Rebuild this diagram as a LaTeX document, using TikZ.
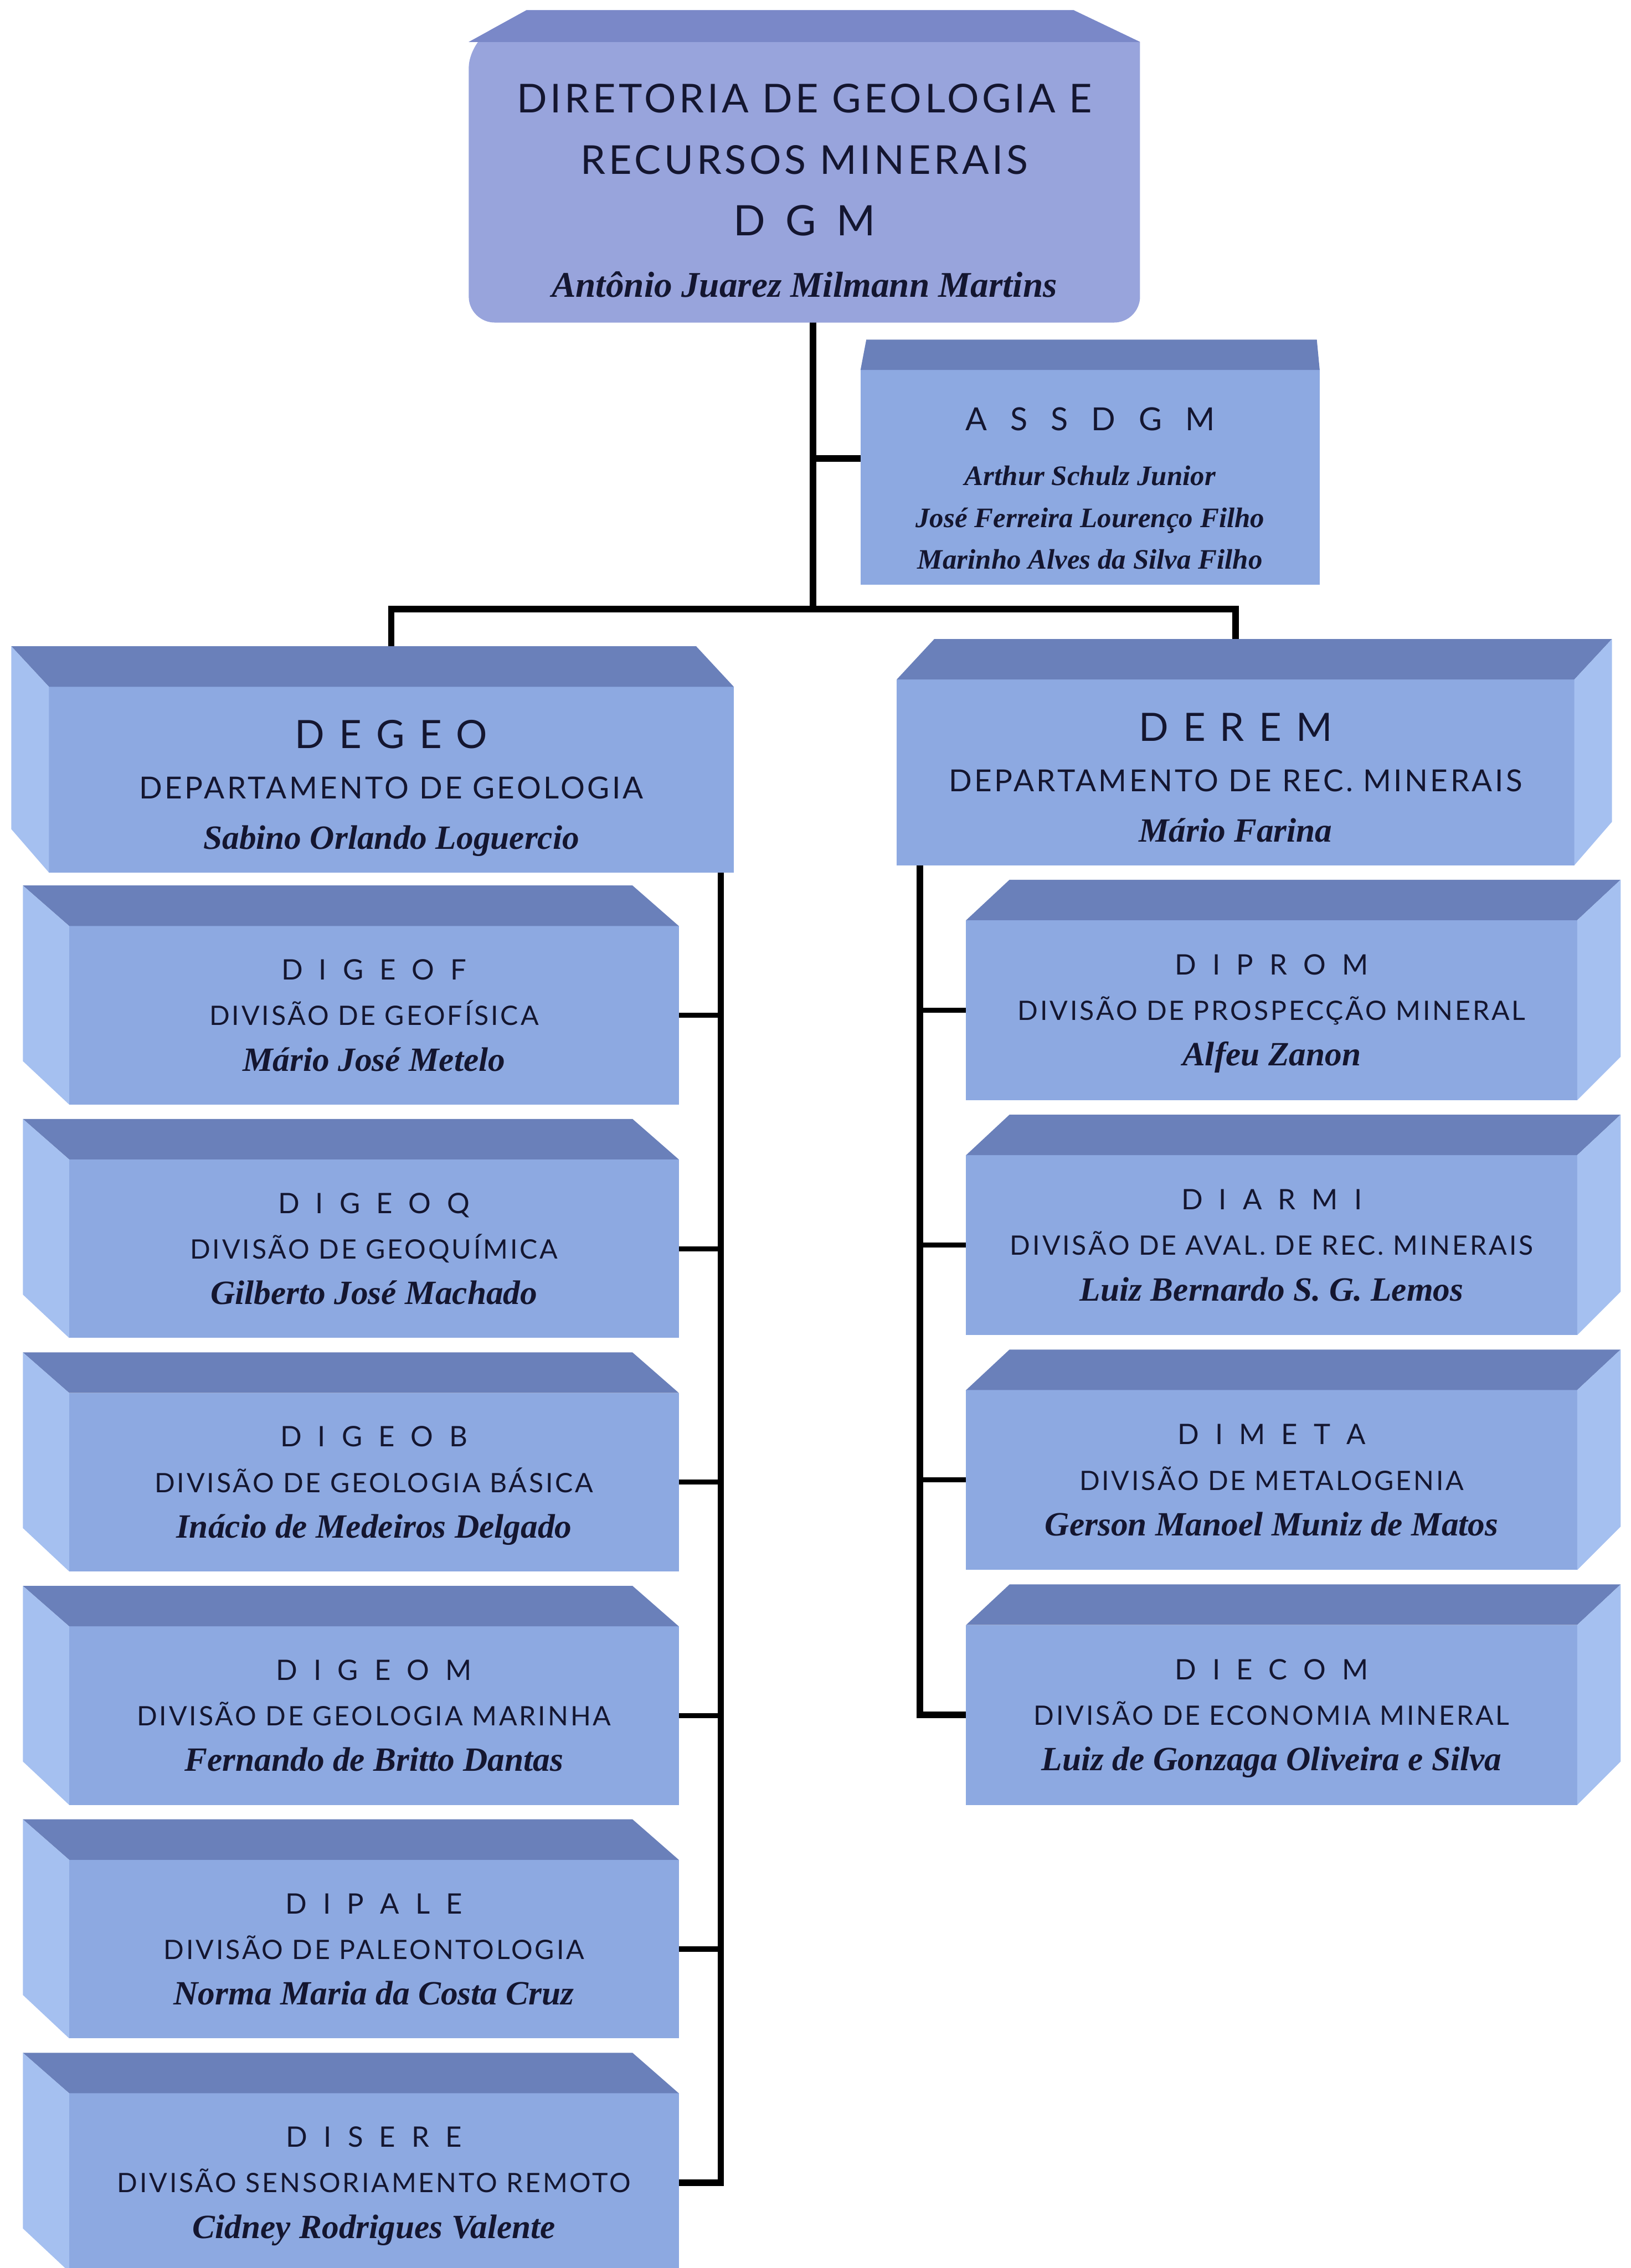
\documentclass[tikz,border=0pt]{standalone}
\usepackage{fontspec}
\usetikzlibrary{positioning}
\setmainfont{Lato}
\newfontfamily\letreiro[LetterSpace=8]{Lato}
\newfontfamily\assinatura{Liberation Serif}
\newcommand{\cx}[2]{{\letreiro\fontsize{#1}{#1}\selectfont #2}}
\newcommand{\sg}[3][0.57em]{{\letreiro\fontsize{#2}{#2}\selectfont\spaceskip=#1\relax #3}}
\newcommand{\nm}[2]{{\assinatura\bfseries\itshape\fontsize{#1}{#1}\selectfont\rule[-6pt]{0pt}{6pt}#2}}
\newcommand{\txdep}[3]{\rule{0pt}{32.4pt}\sg[0.37em]{27}{#1}\\ \cx{21}{#2}\\ \nm{23.5}{#3}}
\newcommand{\txdiv}[3]{\rule{0pt}{20pt}\sg{19.5}{#1}\\ \cx{18.5}{#2}\\ \nm{23.5}{#3}}
\definecolor{frente}{RGB}{141,169,225}
\definecolor{topo}{RGB}{106,128,186}
\definecolor{lado}{RGB}{165,192,240}
\definecolor{dgmfrente}{RGB}{152,164,220}
\definecolor{dgmtopo}{RGB}{122,136,200}
\definecolor{tinta}{RGB}{20,22,48}
\pgfdeclarelayer{fundo}
\pgfsetlayers{fundo,main}

\begin{document}
\begin{tikzpicture}[x=1pt,y=-1pt,
    caixa/.style={rectangle,inner sep=0pt,align=center,text=tinta},
    depto/.style={caixa,minimum height=128pt,font=\fontsize{10}{35}\selectfont},
    divisao/.style={caixa,minimum width=421pt,minimum height=123pt,font=\fontsize{10}{31.5}\selectfont},
    divdir/.style={caixa,minimum width=422pt,minimum height=124pt,font=\fontsize{10}{31.5}\selectfont},
    tronco/.style={line width=4.5pt,black},
    ramal/.style={line width=3.5pt,black}]
    \useasboundingbox (0,0) rectangle (1127,1568);

    % diretoria e assessoria
    \node[caixa,minimum width=464pt,font=\fontsize{10}{42.5}\selectfont] (dgm) at (556,133)
        {\rule{0pt}{23pt}\cx{27.5}{DIRETORIA DE GEOLOGIA E}\\ \cx{27.5}{RECURSOS MINERAIS}\\
         \sg[0.48em]{29}{D G M}\\ \nm{25}{Antônio Juarez Milmann Martins}};
    \node[caixa,minimum width=317pt,minimum height=148pt,font=\fontsize{10}{29}\selectfont] (ass) at (753.5,330)
        {\rule{0pt}{37pt}\sg[0.73em]{22}{A S S D G M}\\[9pt] \nm{19.5}{Arthur Schulz Junior}\\
         \nm{19.5}{José Ferreira Lourenço Filho}\\ \nm{19.5}{Marinho Alves da Silva Filho}};

    % departamentos
    \node[depto,minimum width=473pt] (degeo) at (270.5,539)
        {\txdep{D E G E O}{DEPARTAMENTO DE GEOLOGIA}{Sabino Orlando Loguercio}};
    \node[depto,minimum width=468pt] (derem) at (854,534)
        {\txdep{D E R E M}{DEPARTAMENTO DE REC. MINERAIS}{Mário Farina}};

    % divisoes do DEGEO
    \node[divisao,below=37pt of degeo.south west,anchor=north west,xshift=14pt] (digeof)
        {\txdiv{D I G E O F}{DIVISÃO DE GEOFÍSICA}{Mário José Metelo}};
    \node[divisao,below=38pt of digeof] (digeoq)
        {\txdiv{D I G E O Q}{DIVISÃO DE GEOQUÍMICA}{Gilberto José Machado}};
    \node[divisao,below=38pt of digeoq] (digeob)
        {\txdiv{D I G E O B}{DIVISÃO DE GEOLOGIA BÁSICA}{Inácio de Medeiros Delgado}};
    \node[divisao,below=38pt of digeob] (digeom)
        {\txdiv{D I G E O M}{DIVISÃO DE GEOLOGIA MARINHA}{Fernando de Britto Dantas}};
    \node[divisao,below=38pt of digeom] (dipale)
        {\txdiv{D I P A L E}{DIVISÃO DE PALEONTOLOGIA}{Norma Maria da Costa Cruz}};
    \node[divisao,below=38pt of dipale] (disere)
        {\txdiv{D I S E R E}{DIVISÃO SENSORIAMENTO REMOTO}{Cidney Rodrigues Valente}};

    % divisoes do DEREM
    \node[divdir,below=38pt of derem.south west,anchor=north west,xshift=48pt] (diprom)
        {\txdiv{D I P R O M}{DIVISÃO DE PROSPECÇÃO MINERAL}{Alfeu Zanon}};
    \node[divdir,below=38pt of diprom] (diarmi)
        {\txdiv{D I A R M I}{DIVISÃO DE AVAL. DE REC. MINERAIS}{Luiz Bernardo S. G. Lemos}};
    \node[divdir,below=38pt of diarmi] (dimeta)
        {\txdiv{D I M E T A}{DIVISÃO DE METALOGENIA}{Gerson Manoel Muniz de Matos}};
    \node[divdir,below=38pt of dimeta] (diecom)
        {\txdiv{D I E C O M}{DIVISÃO DE ECONOMIA MINERAL}{Luiz de Gonzaga Oliveira e Silva}};

    \begin{pgfonlayer}{fundo}
    % ligacoes
    \coordinate (hub) at (562,421);
    \coordinate (assin) at ([yshift=13pt]ass.west);
    \draw[tronco] (dgm.south -| hub) -- (hub);
    \draw[tronco] (hub |- assin) -- (assin);
    \draw[tronco] (degeo.north) |- (hub) -| (derem.north);
    \coordinate (lt) at ([xshift=-9pt]degeo.south east);
    \draw[tronco] (lt) |- (disere.east);
    \foreach \n in {digeof,digeoq,digeob,digeom,dipale}
        \draw[ramal] (\n.east) -- (\n.east -| lt);
    \coordinate (rt) at ([xshift=16pt]derem.south west);
    \draw[tronco] (rt) |- (diecom.west);
    \foreach \n in {diprom,diarmi,dimeta}
        \draw[ramal] (\n.west) -- (\n.west -| rt);

    % faces das caixas
    \fill[dgmfrente,shift={(dgm.center)}] (-232,-104) -- (-192,-126) -- (186,-126) -- (232,-104)
        [rounded corners=18pt] -- (232,90) -- (-232,90) -- cycle;
    \fill[dgmtopo,shift={(dgm.center)}] (-232,-104) -- (-192,-126) -- (186,-126) -- (232,-104) -- cycle;
    \fill[frente] (ass.north west) rectangle (ass.south east);
    \fill[topo] (ass.north west) -- ([shift={(4,-21)}]ass.north west)
        -- ([shift={(-2,-21)}]ass.north east) -- (ass.north east) -- cycle;
    \foreach \n/\d in {degeo/26,digeof/32,digeoq/32,digeob/32,digeom/32,dipale/32,disere/32} {
        \fill[frente] (\n.north west) rectangle (\n.south east);
        \fill[topo] (\n.north west) -- ++(-\d,-28) -- ([shift={(-\d,-28)}]\n.north east)
            -- (\n.north east) -- cycle;
        \fill[lado] (\n.north west) -- ++(-\d,-28) -- ([shift={(-\d,-30)}]\n.south west)
            -- (\n.south west) -- cycle;
    }
    \foreach \n/\d in {derem/26,diprom/30,diarmi/30,dimeta/30,diecom/30} {
        \fill[frente] (\n.north west) rectangle (\n.south east);
        \fill[topo] (\n.north west) -- ([shift={(\d,-28)}]\n.north west)
            -- ([shift={(\d,-28)}]\n.north east) -- (\n.north east) -- cycle;
        \fill[lado] (\n.north east) -- ++(\d,-28) -- ([shift={(\d,-30)}]\n.south east)
            -- (\n.south east) -- cycle;
    }
    \end{pgfonlayer}
\end{tikzpicture}
\end{document}
